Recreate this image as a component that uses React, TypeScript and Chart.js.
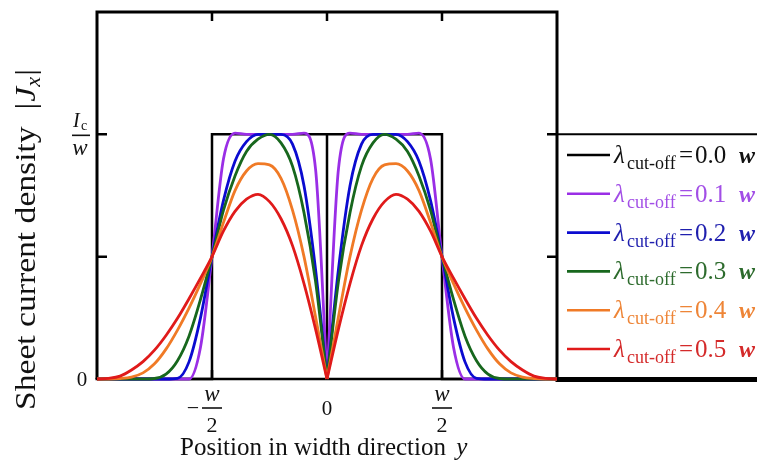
import React, { useEffect, useRef } from "react";
import { Chart, registerables } from "chart.js";

Chart.register(...registerables);

// Position y in units of w
const POSITIONS = [
  -1.0, -0.95, -0.9, -0.85, -0.8, -0.75, -0.7, -0.65, -0.6, -0.55, -0.5,
  -0.45, -0.4, -0.35, -0.3, -0.25, -0.2, -0.15, -0.1, -0.05, 0.0,
  0.05, 0.1, 0.15, 0.2, 0.25, 0.3, 0.35, 0.4, 0.45, 0.5,
  0.55, 0.6, 0.65, 0.7, 0.75, 0.8, 0.85, 0.9, 0.95, 1.0,
];

// |Jx| in units of Ic/w
const PURPLE_Y = [
  0, 0, 0, 0, 0, 0, 0, 0, 0, 0.13, 0.5,
  0.9, 1.005, 1.0, 1.0, 1.0, 1.0, 1.0, 1.005, 0.86, 0,
  0.86, 1.005, 1.0, 1.0, 1.0, 1.0, 1.0, 1.005, 0.9, 0.5,
  0.13, 0, 0, 0, 0, 0, 0, 0, 0, 0,
];
const BLUE_Y = [
  0, 0, 0, 0, 0, 0, 0, 0.003, 0.07, 0.25, 0.5,
  0.73, 0.89, 0.97, 1.0, 1.0, 1.0, 0.96, 0.79, 0.45, 0,
  0.45, 0.79, 0.96, 1.0, 1.0, 1.0, 0.97, 0.89, 0.73, 0.5,
  0.25, 0.07, 0.003, 0, 0, 0, 0, 0, 0, 0,
];
const GREEN_Y = [
  0, 0, 0, 0, 0, 0.002, 0.02, 0.075, 0.175, 0.325, 0.5,
  0.69, 0.83, 0.93, 0.98, 1.0, 0.965, 0.87, 0.68, 0.4, 0,
  0.4, 0.68, 0.87, 0.965, 1.0, 0.98, 0.93, 0.83, 0.69, 0.5,
  0.325, 0.175, 0.075, 0.02, 0.002, 0, 0, 0, 0, 0,
];
const ORANGE_Y = [
  0, 0, 0.002, 0.008, 0.025, 0.062, 0.122, 0.2, 0.29, 0.39, 0.5,
  0.64, 0.77, 0.85, 0.88, 0.875, 0.82, 0.69, 0.5, 0.255, 0,
  0.255, 0.5, 0.69, 0.82, 0.875, 0.88, 0.85, 0.77, 0.64, 0.5,
  0.39, 0.29, 0.2, 0.122, 0.062, 0.025, 0.008, 0.002, 0, 0,
];
const RED_Y = [
  0, 0.003, 0.012, 0.037, 0.071, 0.118, 0.178, 0.248, 0.328, 0.412, 0.5,
  0.605, 0.685, 0.735, 0.755, 0.725, 0.655, 0.545, 0.39, 0.205, 0,
  0.205, 0.39, 0.545, 0.655, 0.725, 0.755, 0.735, 0.685, 0.605, 0.5,
  0.412, 0.328, 0.248, 0.178, 0.118, 0.071, 0.037, 0.012, 0.003, 0,
];

// Ideal (no cut-off) profile
const BLACK_X = [-1, -0.5, -0.5, 0, 0, 0, 0.5, 0.5, 1];
const BLACK_Y = [0, 0, 1, 1, 0, 1, 1, 0, 0];

const CUTOFFS = ["0.0", "0.1", "0.2", "0.3", "0.4", "0.5"];
const LINE_COLORS = ["#000000", "#9a2ee6", "#0b0bd0", "#17671d", "#f07a26", "#e01a1a"];
const TEXT_COLORS = ["#111111", "#a24ee6", "#1f1fae", "#2d6b2d", "#ee8537", "#d42a2a"];

const X_TICKS = [-0.5, 0, 0.5];
const Y_TICKS = [0.5, 1.0];

const SERIF = "'Liberation Serif', 'Times New Roman', serif";

const decorPlugin = {
  id: "decor",
  beforeDatasetsDraw(chart: any) {
    const { ctx, chartArea: a, scales } = chart;
    const xs = scales.x;
    const ys = scales.y;
    ctx.save();
    ctx.strokeStyle = "#000";
    ctx.lineCap = "butt";
    // frame
    ctx.lineWidth = 3;
    ctx.beginPath();
    ctx.moveTo(a.left, a.bottom);
    ctx.lineTo(a.left, a.top);
    ctx.lineTo(a.right, a.top);
    ctx.lineTo(a.right, a.bottom);
    ctx.stroke();
    ctx.lineWidth = 2.5;
    ctx.beginPath();
    ctx.moveTo(a.left - 1.5, a.bottom);
    ctx.lineTo(a.right, a.bottom);
    ctx.stroke();
    // ticks (inward)
    ctx.lineWidth = 2.5;
    ctx.beginPath();
    X_TICKS.forEach((v) => {
      const px = xs.getPixelForValue(v);
      ctx.moveTo(px, a.top);
      ctx.lineTo(px, a.top + 9);
      ctx.moveTo(px, a.bottom);
      ctx.lineTo(px, a.bottom - 9);
    });
    Y_TICKS.forEach((v) => {
      const py = ys.getPixelForValue(v);
      ctx.moveTo(a.left, py);
      ctx.lineTo(a.left + 10, py);
      ctx.moveTo(a.right, py);
      ctx.lineTo(a.right - 10, py);
    });
    ctx.stroke();
    // legend box
    const legTop = ys.getPixelForValue(1.0);
    ctx.lineWidth = 2;
    ctx.beginPath();
    ctx.moveTo(a.right, legTop);
    ctx.lineTo(chart.width, legTop);
    ctx.stroke();
    ctx.lineWidth = 5;
    ctx.beginPath();
    ctx.moveTo(a.right - 1.5, a.bottom + 0.5);
    ctx.lineTo(chart.width, a.bottom + 0.5);
    ctx.stroke();
    ctx.restore();
  },
  afterDraw(chart: any) {
    const { ctx, scales } = chart;
    const xs = scales.x;
    const ys = scales.y;
    ctx.save();
    ctx.fillStyle = "#111";
    ctx.strokeStyle = "#111";
    ctx.textBaseline = "alphabetic";

    // x tick labels
    X_TICKS.forEach((v) => {
      const px = xs.getPixelForValue(v);
      if (v === 0) {
        ctx.font = `21px ${SERIF}`;
        ctx.textAlign = "center";
        ctx.fillText("0", px, 415);
      } else {
        ctx.textAlign = "center";
        ctx.font = `italic 23px ${SERIF}`;
        ctx.fillText("w", px, 401);
        ctx.lineWidth = 1.6;
        ctx.beginPath();
        ctx.moveTo(px - 10, 408);
        ctx.lineTo(px + 10, 408);
        ctx.stroke();
        ctx.font = `22px ${SERIF}`;
        ctx.fillText("2", px, 432);
        if (v < 0) {
          ctx.font = `22px ${SERIF}`;
          ctx.fillText("\u2212", px - 19, 415);
        }
      }
    });

    // y tick labels
    const y0 = ys.getPixelForValue(0);
    ctx.font = `21px ${SERIF}`;
    ctx.textAlign = "center";
    ctx.fillText("0", 82, y0 + 7);
    const y1 = ys.getPixelForValue(1);
    ctx.textAlign = "left";
    ctx.font = `italic 20px ${SERIF}`;
    ctx.fillText("I", 73, y1 - 7);
    ctx.font = `14px ${SERIF}`;
    ctx.fillText("c", 81, y1 - 4);
    ctx.lineWidth = 1.6;
    ctx.beginPath();
    ctx.moveTo(72, y1 + 1);
    ctx.lineTo(90, y1 + 1);
    ctx.stroke();
    ctx.textAlign = "center";
    ctx.font = `italic 23px ${SERIF}`;
    ctx.fillText("w", 80, y1 + 21);

    // x title
    ctx.textAlign = "left";
    ctx.font = `25px ${SERIF}`;
    const xt = "Position in width direction ";
    ctx.fillText(xt, 180, 455);
    const xtw = ctx.measureText(xt).width;
    ctx.font = `italic 25px ${SERIF}`;
    ctx.fillText("y", 180 + xtw + 4, 455);

    // y title (rotated)
    ctx.save();
    ctx.translate(35, 410);
    ctx.rotate(-Math.PI / 2);
    ctx.scale(1.12, 1);
    ctx.textAlign = "left";
    let cx = 0;
    ctx.font = `30px ${SERIF}`;
    const yt = "Sheet current density  |";
    ctx.fillText(yt, cx, 0);
    cx += ctx.measureText(yt).width + 1;
    ctx.font = `italic 30px ${SERIF}`;
    ctx.fillText("J", cx, 0);
    cx += ctx.measureText("J").width;
    ctx.font = `italic 20px ${SERIF}`;
    ctx.fillText("x", cx, 5);
    cx += ctx.measureText("x").width + 1;
    ctx.font = `30px ${SERIF}`;
    ctx.fillText("|", cx, 0);
    ctx.restore();

    // legend
    CUTOFFS.forEach((c, i) => {
      const ry = 155 + 38.8 * i;
      ctx.strokeStyle = LINE_COLORS[i];
      ctx.lineWidth = 2.6;
      ctx.beginPath();
      ctx.moveTo(567, ry);
      ctx.lineTo(610, ry);
      ctx.stroke();
      ctx.fillStyle = TEXT_COLORS[i];
      ctx.textAlign = "left";
      ctx.font = `italic 25px ${SERIF}`;
      ctx.fillText("\u03bb", 614, ry + 8);
      ctx.font = `18px ${SERIF}`;
      ctx.fillText("cut-off", 627, ry + 14);
      ctx.font = `25px ${SERIF}`;
      ctx.fillText("=", 679, ry + 8);
      ctx.fillText(c, 695, ry + 8);
      ctx.font = `bold italic 24px ${SERIF}`;
      ctx.fillText("w", 739, ry + 8);
    });
    ctx.restore();
  },
};

export default function App() {
  const ref = useRef<HTMLCanvasElement | null>(null);
  useEffect(() => {
    if (!ref.current) return;
    const mid = POSITIONS.indexOf(0);
    const series = [PURPLE_Y, BLUE_Y, GREEN_Y, ORANGE_Y, RED_Y];
    const datasets: any[] = [
      {
        label: `λcut-off = ${CUTOFFS[0]} w`,
        data: BLACK_X.map((x, i) => ({ x, y: BLACK_Y[i] })),
        borderColor: LINE_COLORS[0],
        borderWidth: 2.5,
        showLine: true,
        pointRadius: 0,
        tension: 0,
        clip: false,
        order: 20,
      },
    ];
    series.forEach((ys, k) => {
      const pts = POSITIONS.map((x, i) => ({ x, y: ys[i] }));
      const halves = [pts.slice(0, mid + 1), pts.slice(mid)];
      halves.forEach((h) => {
        datasets.push({
          label: `λcut-off = ${CUTOFFS[k + 1]} w`,
          data: h,
          borderColor: LINE_COLORS[k + 1],
          borderWidth: 2.8,
          showLine: true,
          pointRadius: 0,
          cubicInterpolationMode: "monotone",
          clip: false,
          order: 10 - 2 * k,
        });
      });
    });
    const chart = new Chart(ref.current, {
      type: "scatter",
      data: { datasets },
      options: {
        responsive: false,
        animation: false,
        devicePixelRatio: 1,
        layout: { padding: { left: 97, top: 12, right: 200, bottom: 91 } },
        plugins: { legend: { display: false }, tooltip: { enabled: false } },
        scales: {
          x: { type: "linear", min: -1, max: 1, display: false },
          y: { type: "linear", min: 0, max: 1.5, display: false },
        },
      },
      plugins: [decorPlugin],
    });
    return () => chart.destroy();
  }, []);
  return (
    <div style={{ position: "absolute", left: 0, top: 0, width: 757, height: 470, background: "#fff" }}>
      <canvas ref={ref} width={757} height={470} style={{ display: "block" }} />
    </div>
  );
}
